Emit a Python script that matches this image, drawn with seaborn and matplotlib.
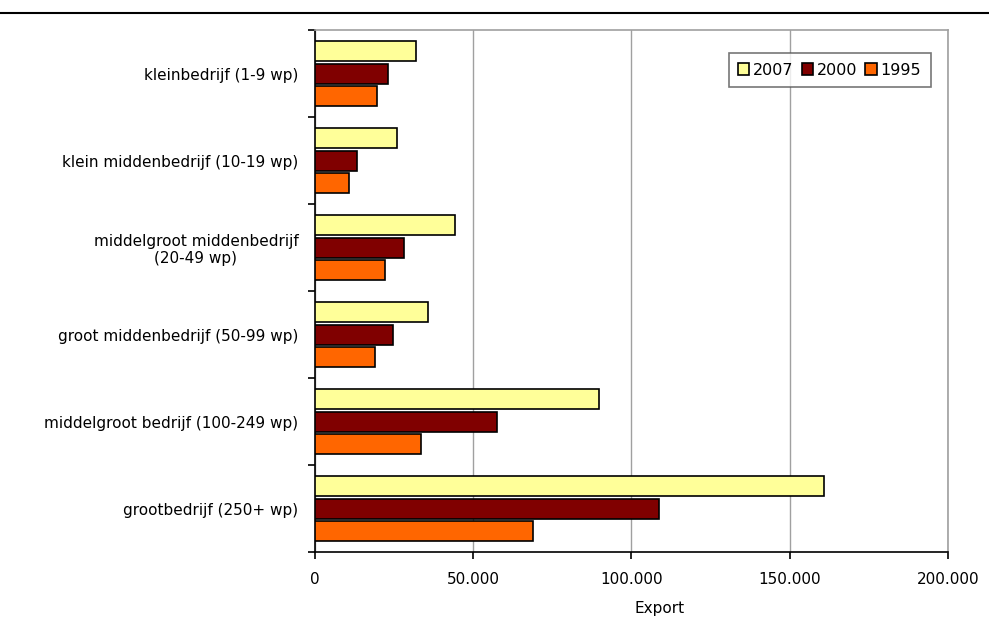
import pandas as pd
import matplotlib.pyplot as plt
import seaborn as sns
from matplotlib.ticker import FuncFormatter, MultipleLocator

# Export per bedrijfsgrootte
categories = [
    "kleinbedrijf (1-9 wp)",
    "klein middenbedrijf (10-19 wp)",
    "middelgroot middenbedrijf\n(20-49 wp)",
    "groot middenbedrijf (50-99 wp)",
    "middelgroot bedrijf (100-249 wp)",
    "grootbedrijf (250+ wp)",
]
years = ["2007", "2000", "1995"]
export_2007 = [31900, 25900, 44200, 35700, 89700, 160800]
export_2000 = [23100, 13300, 28100, 24600, 57500, 108700]
export_1995 = [19600, 10700, 22100, 19000, 33500, 68900]
colors = ["#FFFF99", "#800000", "#FF6600"]

rows = []
for year, vals in zip(years, [export_2007, export_2000, export_1995]):
    for cat, v in zip(categories, vals):
        rows.append({"cat": cat, "year": year, "Export": v})
df = pd.DataFrame(rows)

sns.set_style("white")
plt.rcParams["font.family"] = ["DejaVu Sans"]
plt.rcParams["text.color"] = "black"
plt.rcParams["xtick.color"] = "black"
plt.rcParams["ytick.color"] = "black"
plt.rcParams["axes.labelcolor"] = "black"

fig = plt.figure(figsize=(9.89, 6.21), dpi=100)
ax = fig.add_axes([0.3185, 0.111, 0.64, 0.8405])

sns.barplot(data=df, y="cat", x="Export", hue="year", order=categories,
            hue_order=years, palette=colors, orient="h", width=0.78, gap=0.12,
            edgecolor="black", linewidth=1.2, saturation=1, ax=ax, zorder=3)

ax.set_xlim(0, 200000)
ax.set_ylim(len(categories) - 0.5, -0.5)
ax.xaxis.set_major_locator(MultipleLocator(50000))
ax.xaxis.set_major_formatter(FuncFormatter(lambda v, p: f"{int(v):,}".replace(",", ".")))
ax.grid(axis="x", color="#A0A0A0", linewidth=1, zorder=0)

# category ticks between groups, like the original
ax.set_yticks([i - 0.5 for i in range(len(categories) + 1)], minor=True)
ax.tick_params(axis="y", which="major", left=False, length=0, pad=12, labelsize=11)
ax.tick_params(axis="y", which="minor", left=True, length=5, width=1.2, direction="out")
ax.tick_params(axis="x", which="major", bottom=True, length=5, width=1.2, direction="out",
               labelsize=11, pad=9)
ax.set_ylabel("")
ax.set_xlabel("Export", fontsize=11)
ax.xaxis.set_label_coords(0.545, -0.093)

for s in ["left", "bottom"]:
    ax.spines[s].set_color("black")
    ax.spines[s].set_linewidth(1.2)
for s in ["top", "right"]:
    ax.spines[s].set_color("#A0A0A0")
    ax.spines[s].set_linewidth(1.2)

for lbl in ax.get_yticklabels():
    lbl.set_multialignment("center")

leg = ax.legend(ncol=3, loc="upper right", bbox_to_anchor=(0.973, 0.956),
                borderaxespad=0, frameon=True, fancybox=False, fontsize=11.5,
                handlelength=0.7, handleheight=0.7, handletextpad=0.25,
                columnspacing=0.5, borderpad=0.6, edgecolor="#555555")
leg.get_frame().set_linewidth(1.2)

fig.add_artist(plt.Line2D([0, 1], [1 - 13 / 621, 1 - 13 / 621], color="black", linewidth=1.5))

plt.savefig("out.png", dpi=100)
